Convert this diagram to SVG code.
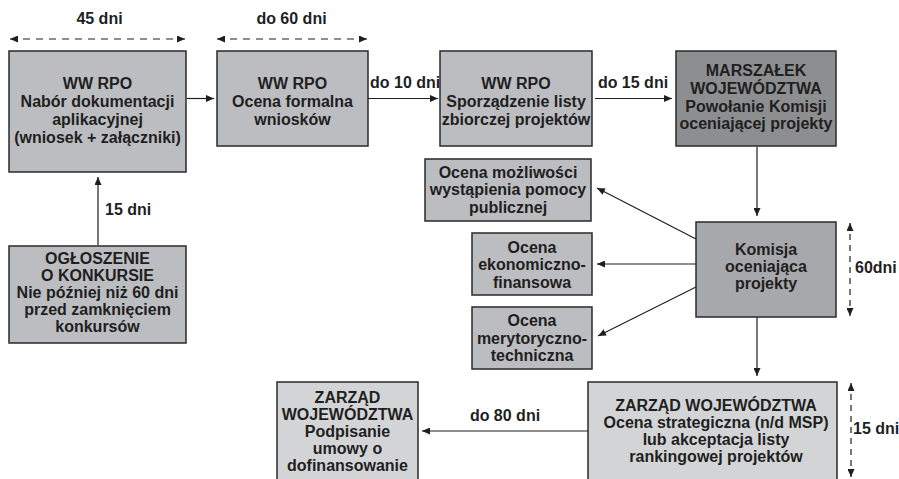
<svg xmlns="http://www.w3.org/2000/svg" width="899" height="479" viewBox="0 0 899 479">
<defs>
<marker id="ah" markerWidth="9" markerHeight="7" refX="8" refY="3.5" orient="auto-start-reverse" markerUnits="userSpaceOnUse">
<path d="M0,0 L8,3.5 L0,7 z" fill="#1f1f1f"/>
</marker>
<style>
.box{stroke:#2a2a2a;stroke-width:1.5}
.lt{fill:#bcbdc0}
.dk{fill:#8d8e90}
.md{fill:#a7a8ab}
.pl{fill:#d3d4d6}
text{font-family:"Liberation Sans",Arial,sans-serif;font-weight:bold;font-size:16px;fill:#1f1f1f}
.c{text-anchor:middle}
.ln{stroke:#1f1f1f;stroke-width:1.2;fill:none;marker-end:url(#ah)}
.dl{stroke:#1f1f1f;stroke-width:1.2;fill:none;stroke-dasharray:7 6;marker-start:url(#ah);marker-end:url(#ah)}
.dv{stroke:#1f1f1f;stroke-width:1.2;fill:none;stroke-dasharray:6 5;marker-start:url(#ah);marker-end:url(#ah)}
</style>
</defs>
<rect width="899" height="479" fill="#ffffff"/>

<g id="connectors">
<line class="dl" x1="10" y1="39" x2="185" y2="39"/>
<line class="dl" x1="217" y1="39" x2="367" y2="39"/>
<line class="ln" x1="187" y1="98.5" x2="214" y2="98.5"/>
<line class="ln" x1="368" y1="98.5" x2="438" y2="98.5"/>
<line class="ln" x1="595" y1="98.5" x2="672" y2="98.5"/>
<line class="ln" x1="98" y1="245" x2="98" y2="177"/>
<line class="ln" x1="757" y1="147" x2="757" y2="216"/>
<line class="ln" x1="696" y1="239" x2="597" y2="188"/>
<line class="ln" x1="696" y1="264" x2="597" y2="264"/>
<line class="ln" x1="696" y1="287" x2="598" y2="336"/>
<line class="ln" x1="757" y1="317" x2="757" y2="376"/>
<line class="ln" x1="588" y1="431" x2="422" y2="431"/>
<line class="dv" x1="850" y1="223" x2="850" y2="316"/>
<line class="dv" x1="851" y1="383" x2="851" y2="477"/>
<text class="c" x="99.5" y="24">45 dni</text>
<text class="c" x="291.5" y="24">do 60 dni</text>
<text x="370" y="88">do 10 dni</text>
<text class="c" x="633" y="88">do 15 dni</text>
<text x="105" y="215">15 dni</text>
<text x="855" y="273">60dni</text>
<text class="c" x="505" y="421">do 80 dni</text>
<text x="853" y="434">15 dni</text>
</g>

<g id="nabor">
<rect class="box lt" x="9" y="51" width="177" height="121"/>
<text class="c" x="97.5" y="89">WW RPO</text>
<text class="c" x="97.5" y="107">Nabór dokumentacji</text>
<text class="c" x="97.5" y="125">aplikacyjnej</text>
<text class="c" x="97.5" y="143">(wniosek + załączniki)</text>
</g>

<g id="ocena-formalna">
<rect class="box lt" x="217" y="51" width="151" height="95"/>
<text class="c" x="292.5" y="89">WW RPO</text>
<text class="c" x="292.5" y="107">Ocena formalna</text>
<text class="c" x="292.5" y="125">wniosków</text>
</g>

<g id="lista-zbiorcza">
<rect class="box lt" x="440" y="51" width="152" height="95"/>
<text class="c" x="516" y="89">WW RPO</text>
<text class="c" x="516" y="107">Sporządzenie listy</text>
<text class="c" x="516" y="125">zbiorczej projektów</text>
</g>

<g id="marszalek">
<rect class="box dk" x="676" y="51" width="160" height="95"/>
<text class="c" x="756" y="76">MARSZAŁEK</text>
<text class="c" x="756" y="94">WOJEWÓDZTWA</text>
<text class="c" x="756" y="111.5">Powołanie Komisji</text>
<text class="c" x="756" y="129">oceniającej projekty</text>
</g>

<g id="ogloszenie">
<rect class="box lt" x="9" y="246" width="177" height="97"/>
<text class="c" x="97.5" y="264">OGŁOSZENIE</text>
<text class="c" x="97.5" y="281">O KONKURSIE</text>
<text class="c" x="97.5" y="298">Nie później niż 60 dni</text>
<text class="c" x="97.5" y="315">przed zamknięciem</text>
<text class="c" x="97.5" y="332">konkursów</text>
</g>

<g id="pomoc-publiczna">
<rect class="box lt" x="425" y="159" width="166" height="62"/>
<text class="c" x="508" y="177.5">Ocena możliwości</text>
<text class="c" x="508" y="195">wystąpienia pomocy</text>
<text class="c" x="508" y="212.5">publicznej</text>
</g>

<g id="ekonomiczno-finansowa">
<rect class="box lt" x="472" y="233" width="120" height="62"/>
<text class="c" x="532" y="252.5">Ocena</text>
<text class="c" x="532" y="270">ekonomiczno-</text>
<text class="c" x="532" y="287.5">finansowa</text>
</g>

<g id="merytoryczno-techniczna">
<rect class="box lt" x="472" y="307" width="120" height="62"/>
<text class="c" x="532" y="326">Ocena</text>
<text class="c" x="532" y="343.5">merytoryczno-</text>
<text class="c" x="532" y="361">techniczna</text>
</g>

<g id="komisja">
<rect class="box md" x="696" y="222" width="140" height="95"/>
<text class="c" x="766" y="255">Komisja</text>
<text class="c" x="766" y="272">oceniająca</text>
<text class="c" x="766" y="289">projekty</text>
</g>

<g id="zarzad-ocena">
<rect class="box pl" x="588" y="382" width="249" height="110"/>
<text class="c" x="716" y="411">ZARZĄD WOJEWÓDZTWA</text>
<text class="c" x="716" y="428">Ocena strategiczna (n/d MSP)</text>
<text class="c" x="716" y="445">lub akceptacja listy</text>
<text class="c" x="716" y="462">rankingowej projektów</text>
</g>

<g id="zarzad-umowa">
<rect class="box pl" x="277" y="382" width="141" height="110"/>
<text class="c" x="347.5" y="403">ZARZĄD</text>
<text class="c" x="347.5" y="420">WOJEWÓDZTWA</text>
<text class="c" x="347.5" y="437">Podpisanie</text>
<text class="c" x="347.5" y="454">umowy o</text>
<text class="c" x="347.5" y="471">dofinansowanie</text>
</g>
</svg>
